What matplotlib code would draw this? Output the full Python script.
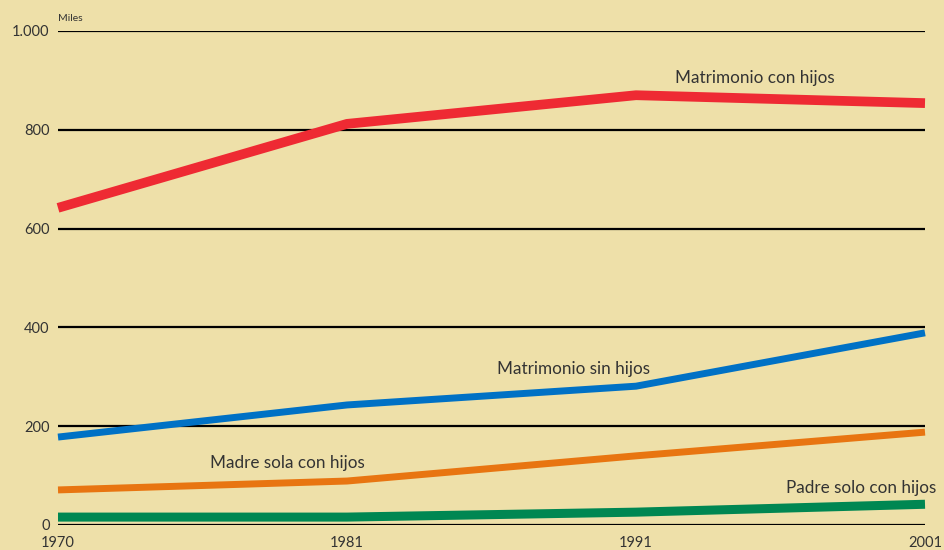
import matplotlib.pyplot as plt
import numpy as np

plt.rcParams['font.family'] = ['Lato', 'DejaVu Sans']

years = ['1970', '1981', '1991', '2001']
con_hijos = [642, 812, 870, 854]
sin_hijos = [178, 243, 281, 389]
madre_sola = [71, 89, 140, 188]
padre_solo = [16, 16, 26, 42]

yticks = [0, 200, 400, 600, 800, 1000]
ylabels = ['0', '200', '400', '600', '800', '1.000']

bg = '#EEE0A9'
txt = '#333333'

fig = plt.figure(figsize=(9.44, 5.5), dpi=100, facecolor=bg)
ax = fig.add_axes([58/944, 25/550, (925-58)/944, (525-31)/550], facecolor=bg)

x = np.arange(len(years))
ax.plot(x, con_hijos, color='#EE2A33', lw=7, solid_capstyle='butt', clip_on=False, zorder=3)
ax.plot(x, sin_hijos, color='#0071C5', lw=5, solid_capstyle='butt', clip_on=False, zorder=3)
ax.plot(x, madre_sola, color='#E87511', lw=5, solid_capstyle='butt', clip_on=False, zorder=3)
ax.plot(x, padre_solo, color='#008752', lw=6.5, solid_capstyle='butt', clip_on=False, zorder=3)

for t in yticks:
    ax.axhline(t, color='black', lw=1.6, zorder=2)

ax.set_xlim(0, 3)
ax.set_ylim(0, 1000)
ax.set_xticks(x)
ax.set_xticklabels(years)
ax.set_yticks(yticks)
ax.set_yticklabels(ylabels)
ax.tick_params(length=0, labelsize=10.5, labelcolor=txt)
ax.tick_params(axis='y', pad=6)
ax.tick_params(axis='x', pad=8)
for s in ax.spines.values():
    s.set_visible(False)

kw = dict(color=txt, fontsize=12.3, va='center')
ax.text(2.135, 905, 'Matrimonio con hijos', **kw)
ax.text(1.519, 316, 'Matrimonio sin hijos', **kw)
ax.text(0.526, 125, 'Madre sola con hijos', **kw)
ax.text(2.52, 75, 'Padre solo con hijos', **kw)
ax.text(0.0, 1025, 'Miles', color=txt, fontsize=7.5, va='center')

fig.savefig('out.png', dpi=100, facecolor=bg)
